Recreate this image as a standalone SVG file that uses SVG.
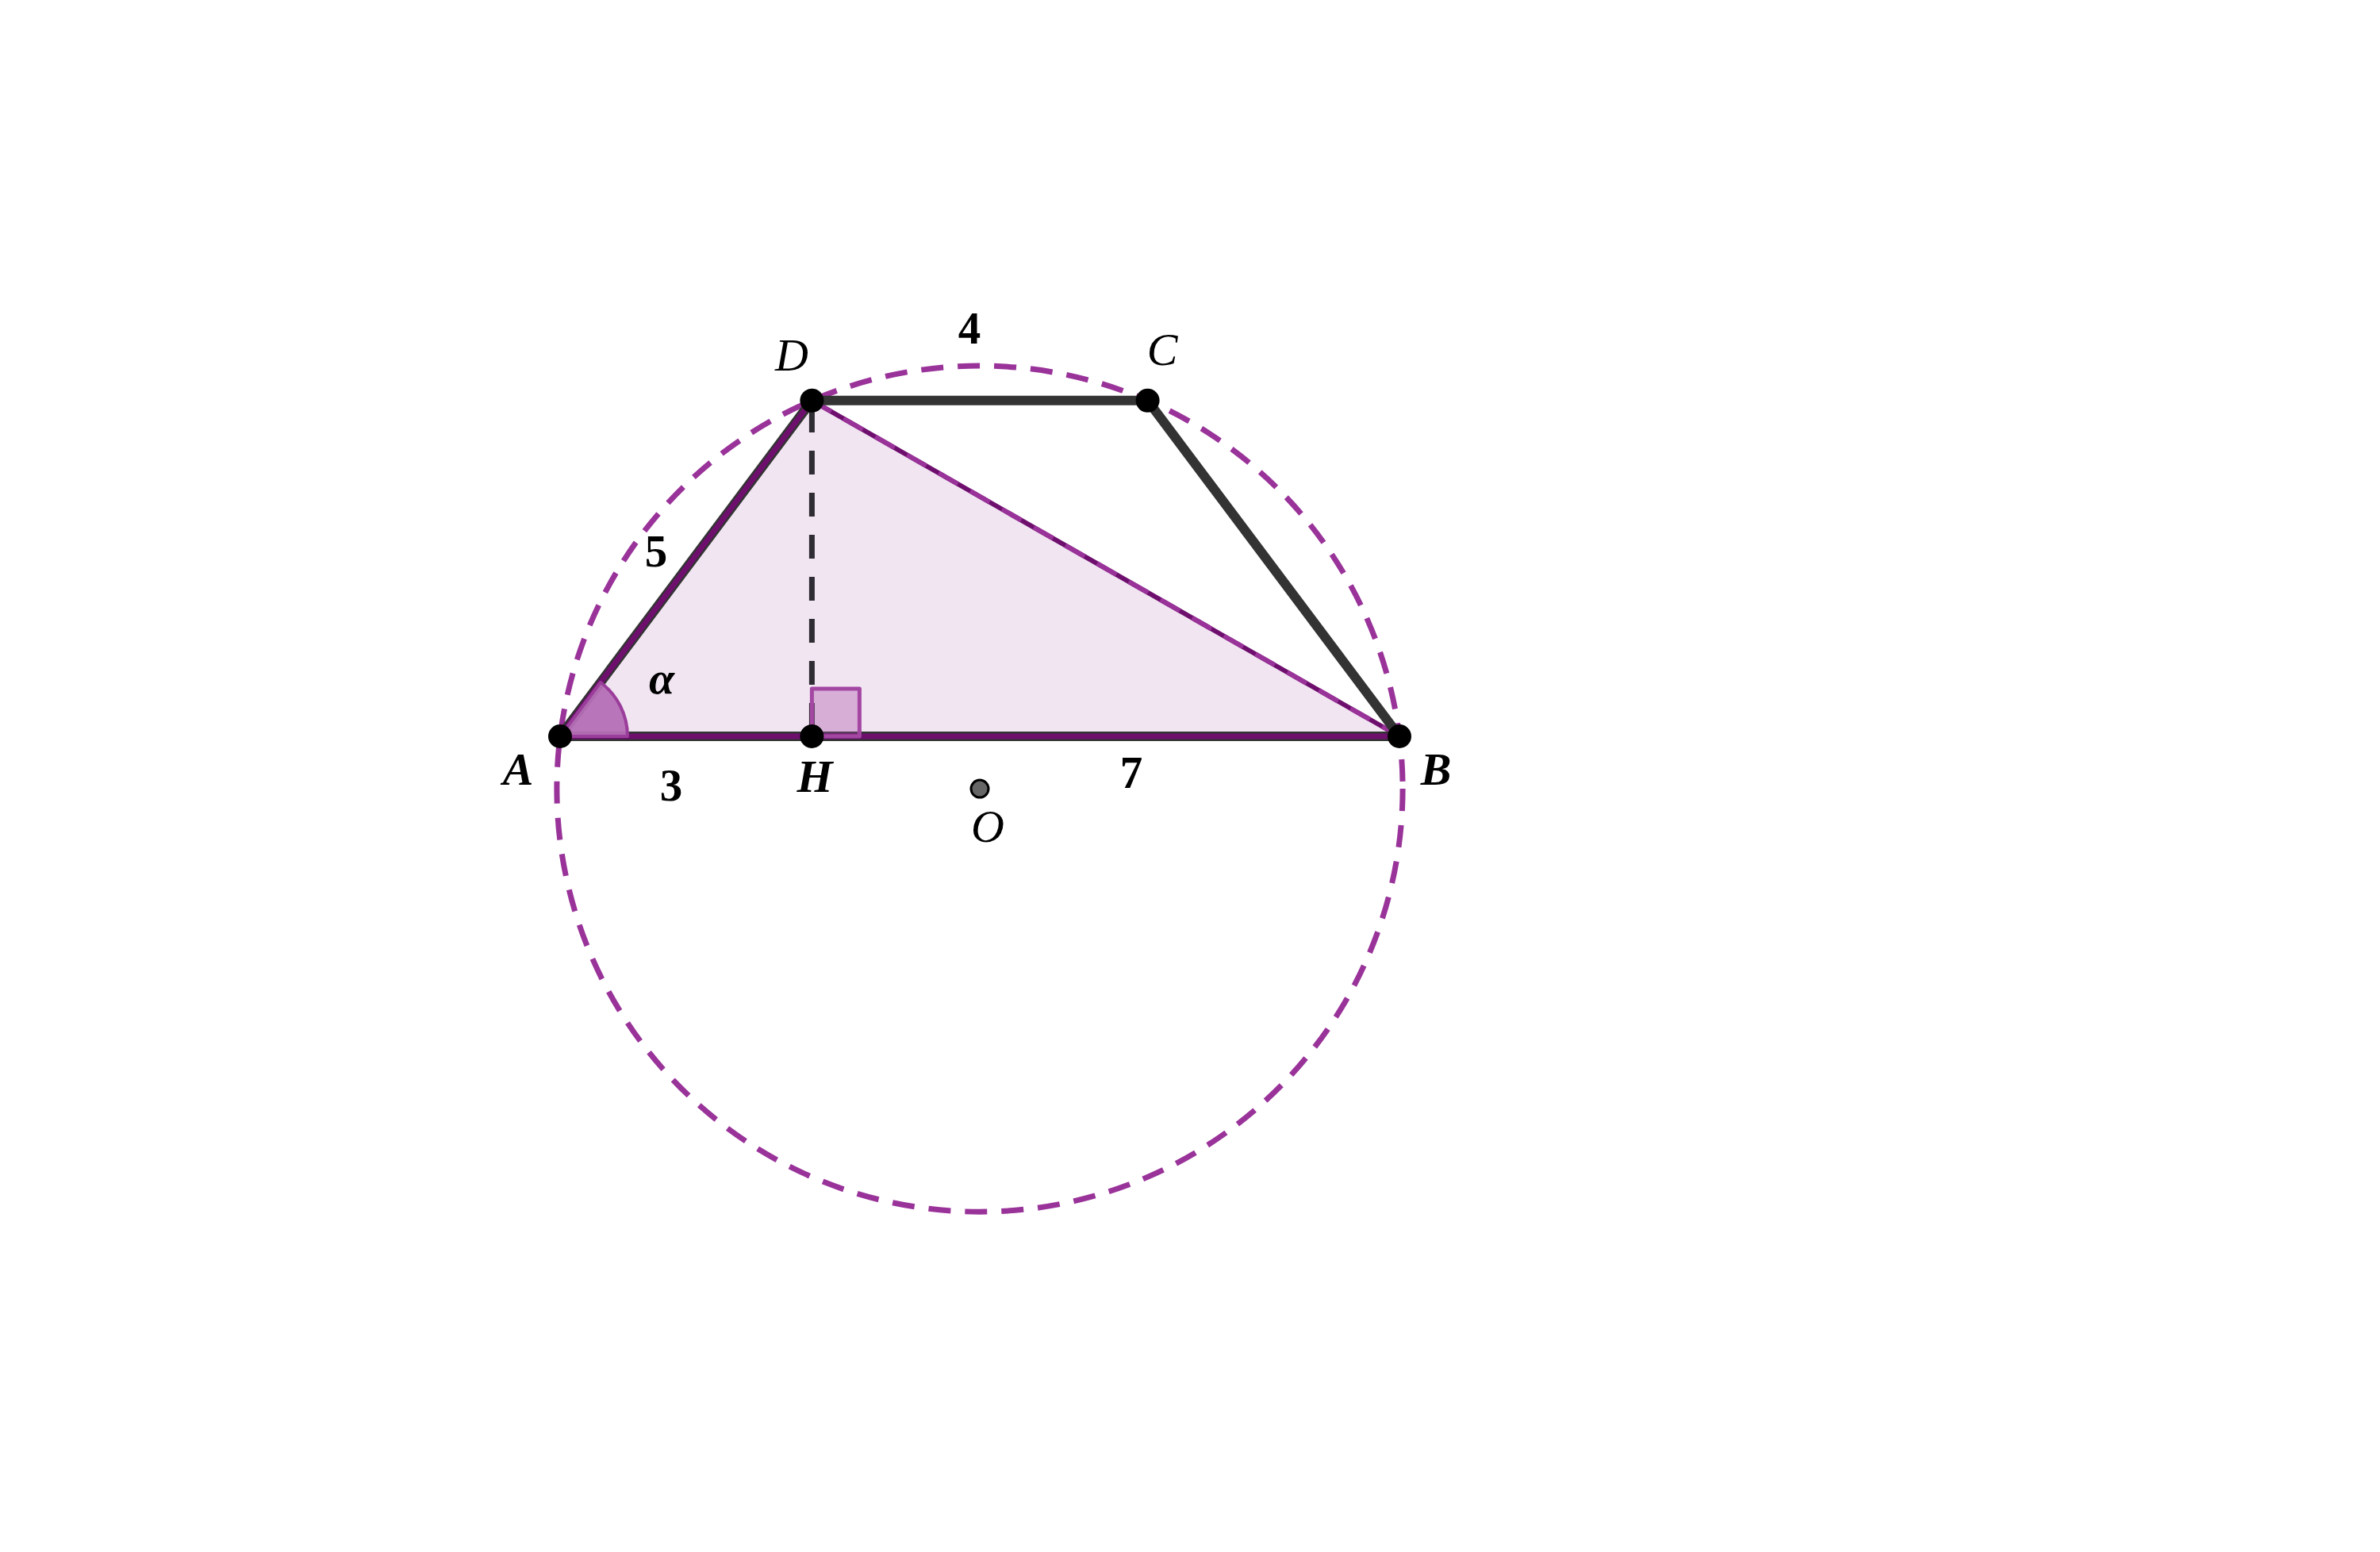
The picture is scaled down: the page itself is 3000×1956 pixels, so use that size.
<svg xmlns="http://www.w3.org/2000/svg" width="3000" height="1956" viewBox="0 0 3000 1956">
<style>
.lbl{font-family:"Liberation Serif","DejaVu Serif",serif;font-style:italic;font-size:58px;fill:#000;text-anchor:middle}
.b{font-weight:bold}
.num{font-family:"Liberation Serif","DejaVu Serif",serif;font-weight:bold;font-size:57px;fill:#000;text-anchor:middle}
.pt{fill:#000}
</style>
<rect width="3000" height="1956" fill="#fff"/>
<g id="triangle-fill">
<polygon points="706,928 1764,928 1023.4,504.8" fill="#f1e5f2"/>
</g>
<g id="circle">
<circle cx="1235" cy="994.1" r="533.1" fill="none" stroke="#993399" stroke-width="7" stroke-dasharray="28 18"/>
</g>
<g id="connectors">
<line x1="1023.4" y1="504.8" x2="1764" y2="928" stroke="#6e0f6e" stroke-width="6"/>
<line x1="1023.4" y1="504.8" x2="1764" y2="928" stroke="#993399" stroke-width="6" stroke-dasharray="28 18"/>
<line x1="1023.4" y1="504.8" x2="1446.6" y2="504.8" stroke="#333" stroke-width="12"/>
<line x1="1446.6" y1="504.8" x2="1764" y2="928" stroke="#333" stroke-width="12"/>
<line x1="706" y1="928" x2="1023.4" y2="504.8" stroke="#333" stroke-width="12"/>
<line x1="706" y1="928" x2="1023.4" y2="504.8" stroke="#6e0f6e" stroke-width="7"/>
<line x1="706" y1="928" x2="1764" y2="928" stroke="#333" stroke-width="12"/>
<line x1="706" y1="928" x2="1764" y2="928" stroke="#6e0f6e" stroke-width="7"/>
<line x1="1023.4" y1="515" x2="1023.4" y2="928" stroke="#2f2d33" stroke-width="7" stroke-dasharray="30 23"/>
</g>
<g id="angle-alpha">
<path d="M706,928 L791,928 A85,85 0 0 0 757,860 Z" fill="#b56fb5" fill-opacity="0.95" stroke="#9b3d9b" stroke-width="4" stroke-linejoin="round"/>
</g>
<g id="right-angle">
<rect x="1023.4" y="868" width="60" height="60" fill="#a347a3" fill-opacity="0.35" stroke="#a347a3" stroke-width="5" stroke-linejoin="round"/>
</g>
<g id="node-A"><circle class="pt" cx="706" cy="928" r="15"/><text class="lbl b" x="653" y="989">A</text></g>
<g id="node-H"><circle class="pt" cx="1023.4" cy="928" r="15"/><text class="lbl b" x="1027" y="998">H</text></g>
<g id="node-B"><circle class="pt" cx="1764" cy="928" r="15"/><text class="lbl b" x="1810" y="989">B</text></g>
<g id="node-D"><circle class="pt" cx="1023.4" cy="504.8" r="15"/><text class="lbl" x="998" y="467">D</text></g>
<g id="node-C"><circle class="pt" cx="1446.6" cy="504.8" r="15"/><text class="lbl" x="1465" y="460">C</text></g>
<g id="node-O"><circle cx="1235" cy="994.1" r="11" fill="#666" stroke="#000" stroke-width="3"/><text class="lbl" x="1245" y="1061">O</text></g>
<g id="labels">
<text class="num" x="1222" y="433">4</text>
<text class="num" x="827" y="714">5</text>
<text class="num" x="846" y="1009">3</text>
<text class="num" x="1426" y="993">7</text>
<text class="lbl b" x="834" y="874">α</text>
</g>
</svg>
